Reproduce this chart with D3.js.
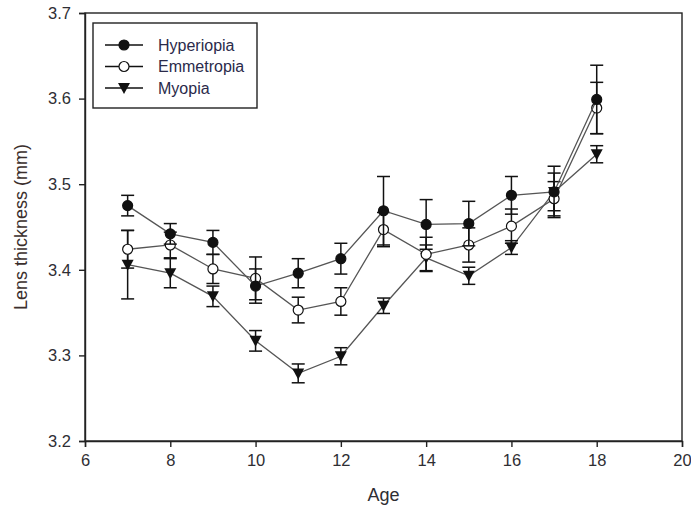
<!DOCTYPE html>
<html>
<head>
<meta charset="UTF-8">
<script src="https://d3js.org/d3.v7.min.js"></script>
<style>
  body { margin: 0; background: #fff; }
  svg text { font-family: "Liberation Sans", Arial, sans-serif; fill: #2e2e33; }
  .axis path, .axis line { stroke: #222; stroke-width: 1.4; }
</style>
</head>
<body>
<svg id="chart" width="691" height="508"></svg>
<script>
// data
const ages = [7, 8, 9, 10, 11, 12, 13, 14, 15, 16, 17, 18];
const hyperiopia    = [3.475, 3.442, 3.432, 3.381, 3.396, 3.413, 3.469, 3.453, 3.454, 3.487, 3.491, 3.599];
const hyperiopiaErr = [0.012, 0.012, 0.014, 0.020, 0.017, 0.018, 0.040, 0.029, 0.026, 0.022, 0.022, 0.040];
const emmetropia    = [3.424, 3.429, 3.401, 3.390, 3.353, 3.363, 3.447, 3.418, 3.429, 3.451, 3.483, 3.589];
const emmetropiaErr = [0.022, 0.015, 0.017, 0.025, 0.015, 0.016, 0.020, 0.020, 0.020, 0.020, 0.020, 0.030];
const myopia        = [3.406, 3.396, 3.369, 3.317, 3.279, 3.299, 3.358, 3.414, 3.393, 3.426, 3.491, 3.535];
const myopiaErr     = [0.040, 0.017, 0.012, 0.012, 0.011, 0.010, 0.009, 0.015, 0.010, 0.008, 0.030, 0.010];
const xTicks = [6, 8, 10, 12, 14, 16, 18, 20];
const yTicks = [3.2, 3.3, 3.4, 3.5, 3.6, 3.7];

const series = [
  {name: "Hyperiopia", values: hyperiopia, err: hyperiopiaErr, marker: "filled"},
  {name: "Emmetropia", values: emmetropia, err: emmetropiaErr, marker: "open"},
  {name: "Myopia", values: myopia, err: myopiaErr, marker: "triangle"}
];

const svg = d3.select("#chart");
const margin = {top: 13, right: 9, bottom: 67, left: 85};
const width = +svg.attr("width") - margin.left - margin.right;
const height = +svg.attr("height") - margin.top - margin.bottom;

const g = svg.append("g").attr("transform", "translate(" + margin.left + "," + margin.top + ")");

const x = d3.scaleLinear().domain([6, 20]).range([0, width]);
const y = d3.scaleLinear().domain([3.2, 3.7]).range([height, 0]);

// frame
g.append("rect")
  .attr("width", width).attr("height", height)
  .attr("fill", "none").attr("stroke", "#222").attr("stroke-width", 1.4);

g.append("g").attr("class", "axis")
  .attr("transform", "translate(0," + height + ")")
  .call(d3.axisBottom(x).tickValues(xTicks).tickSize(6).tickPadding(7).tickFormat(d3.format("d")))
  .call(a => a.selectAll("text").style("font-size", "16.5px"));

g.append("g").attr("class", "axis")
  .call(d3.axisLeft(y).tickValues(yTicks).tickSize(6).tickPadding(8).tickFormat(d3.format(".1f")))
  .call(a => a.selectAll("text").style("font-size", "16.5px"));

svg.append("text")
  .attr("x", margin.left + width / 2).attr("y", 501)
  .attr("text-anchor", "middle").style("font-size", "18px")
  .text("Age");

svg.append("text")
  .attr("transform", "translate(27," + (margin.top + height / 2) + ") rotate(-90)")
  .attr("text-anchor", "middle").style("font-size", "18px").style("fill", "#3a2e2c")
  .text("Lens thickness (mm)");

const triangle = "M-6,-5L6,-5L0,6Z";

function drawMarker(sel, type) {
  if (type === "triangle") {
    sel.append("path").attr("d", triangle).attr("fill", "#111");
  } else {
    sel.append("circle").attr("r", 5)
      .attr("fill", type === "filled" ? "#111" : "#fff")
      .attr("stroke", "#111").attr("stroke-width", 1.2);
  }
}

const line = d3.line().x(d => x(d[0])).y(d => y(d[1]));

series.slice().reverse().forEach(s => {
  const pts = ages.map((a, i) => [a, s.values[i], s.err[i]]);

  g.append("path").datum(pts)
    .attr("d", line)
    .attr("fill", "none").attr("stroke", "#555").attr("stroke-width", 1.3);

  const eb = g.append("g");
  pts.forEach(p => {
    const cx = x(p[0]), top = y(p[1] + p[2]), bot = y(p[1] - p[2]);
    eb.append("line").attr("x1", cx).attr("x2", cx).attr("y1", top).attr("y2", bot)
      .attr("stroke", "#111").attr("stroke-width", 1.5);
    [top, bot].forEach(v => {
      eb.append("line").attr("x1", cx - 6.5).attr("x2", cx + 6.5).attr("y1", v).attr("y2", v)
        .attr("stroke", "#111").attr("stroke-width", 1.5);
    });
  });

  pts.forEach(p => {
    const m = g.append("g").attr("transform", "translate(" + x(p[0]) + "," + y(p[1]) + ")");
    drawMarker(m, s.marker);
  });
});

// legend
const legend = svg.append("g").attr("transform", "translate(93,23)");
legend.append("rect").attr("width", 164).attr("height", 85)
  .attr("fill", "#fff").attr("stroke", "#222").attr("stroke-width", 1.4);

series.forEach((s, i) => {
  const row = legend.append("g").attr("transform", "translate(0," + (22 + i * 21.5) + ")");
  row.append("line").attr("x1", 12).attr("x2", 50).attr("y1", 0).attr("y2", 0)
    .attr("stroke", "#111").attr("stroke-width", 1.4);
  const m = row.append("g").attr("transform", "translate(31,0)");
  drawMarker(m, s.marker);
  row.append("text").attr("x", 65).attr("y", 5.5)
    .style("font-size", "16px").style("fill", "#2a2a4a")
    .text(s.name);
});
</script>
</body>
</html>
